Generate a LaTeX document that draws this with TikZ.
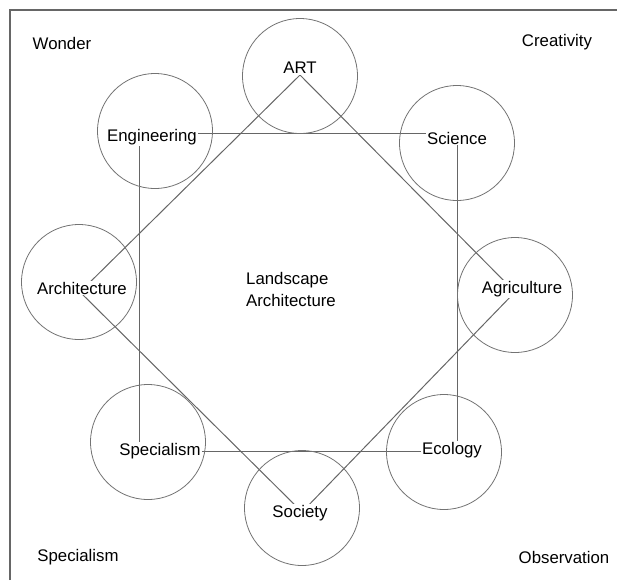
\documentclass[tikz,border=0pt]{standalone}
\usepackage{fontspec}
\setmainfont{Liberation Sans}
\usetikzlibrary{positioning}

\begin{document}
\begin{tikzpicture}[x=0.5pt, y=-0.5pt,
  ring/.style={draw=black!55, circle, minimum size=57.5pt, inner sep=0pt},
  lbl/.style={fill=white, inner sep=0.6pt, font=\fontsize{8.4}{10}\selectfont},
  link/.style={draw=black!60, line width=0.5pt}]
  \useasboundingbox (0,0) rectangle (617,580);
  \draw[black!60, line width=0.8pt] (10,580) -- (10,10) -- (617,10);

  % corners of the square and the diamond
  \coordinate (engpt) at (139,133);
  \coordinate (scipt) at (457,133);
  \coordinate (ecopt) at (457,451);
  \coordinate (specpt) at (139,451);
  \coordinate (artpt) at (300,75);
  \coordinate (agrpt) at (515,292);
  \coordinate (socpt) at (302,512);
  \coordinate (archpt) at (80,292);

  \draw[link] (engpt) -- (scipt) -- (ecopt) -- (specpt) -- cycle;
  \draw[link] (artpt) -- (agrpt) -- (socpt) -- (archpt) -- cycle;

  \node[ring] (artc) at (300,76) {};
  \node[ring] (engc) at (155,131) {};
  \node[ring] (scic) at (457,143) {};
  \node[ring] (archc) at (79,282) {};
  \node[ring] (agrc) at (515,295) {};
  \node[ring] (specc) at (148,442) {};
  \node[ring] (ecoc) at (444,452) {};
  \node[ring] (socc) at (302,508) {};

  \node[lbl] (art) at (300,68) {ART};
  \node[lbl] (eng) at (152,137) {Engineering};
  \node[lbl] (sci) at (457,138) {Science};
  \node[lbl] (arch) at (82,288) {Architecture};
  \node[lbl] (agr) at (522,289) {Agriculture};
  \node[lbl] (spec) at (160,451) {Specialism};
  \node[lbl] (eco) at (452,450) {Ecology};
  \node[lbl] (soc) at (300,513) {Society};

  \node[lbl, align=left, font=\fontsize{8.4}{11}\selectfont] (land) at (291,289) {Landscape\\Architecture};

  \node[lbl] (wonder) at (62,43) {Wonder};
  \node[lbl] (creat) at (557,42) {Creativity};
  \node[lbl] (specl) at (78,557) {Specialism};
  \node[lbl] (obs) at (564,557) {Observation};
\end{tikzpicture}
\end{document}
